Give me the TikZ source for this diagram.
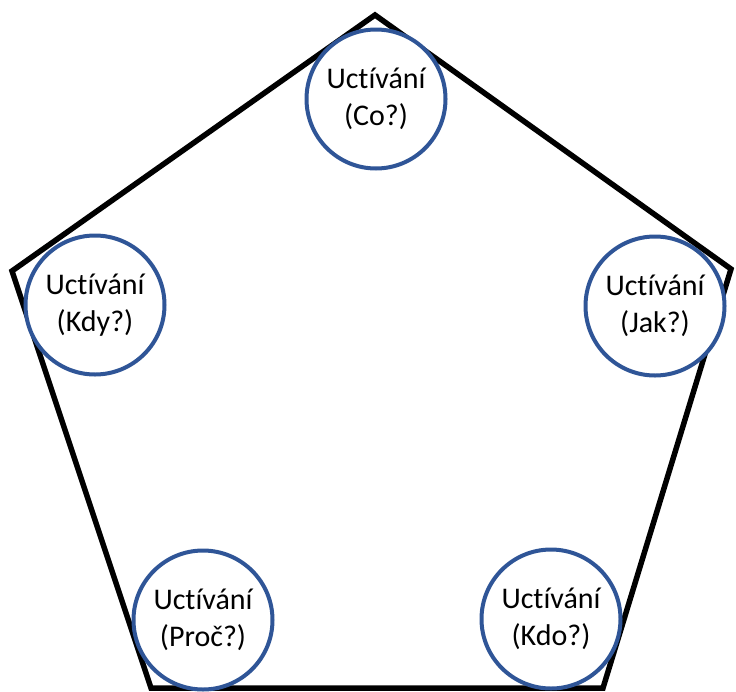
\documentclass[tikz,border=0pt]{standalone}
\usepackage{fontspec}
\setmainfont[Ligatures=NoCommon]{Carlito}
\definecolor{ringblue}{RGB}{47,85,151}
\begin{document}
\begin{tikzpicture}[x=1pt,y=-1pt,
  ring/.style={circle,draw=ringblue,line width=4pt,fill=white,minimum size=139pt,inner sep=0pt,align=center,font=\fontsize{30}{37}\selectfont},
  pent/.style={draw=black,line width=5.5pt,line join=miter}]
\useasboundingbox (0,0) rectangle (736,691);
\coordinate (t) at (375,15);
\coordinate (r) at (731,269);
\coordinate (br) at (603,688);
\coordinate (bl) at (151,688);
\coordinate (l) at (12,271);
\draw[pent] (t) -- (r) -- (br) -- (bl) -- (l) -- cycle;
\node[ring] (co) at (376,99) {Uctívání\\(Co?)};
\node[ring] (kdy) at (95,305) {Uctívání\\(Kdy?)};
\node[ring] (jak) at (655,306) {Uctívání\\(Jak?)};
\node[ring] (proc) at (203,620) {Uctívání\\(Proč?)};
\node[ring] (kdo) at (551,619) {Uctívání\\(Kdo?)};
\end{tikzpicture}
\end{document}
